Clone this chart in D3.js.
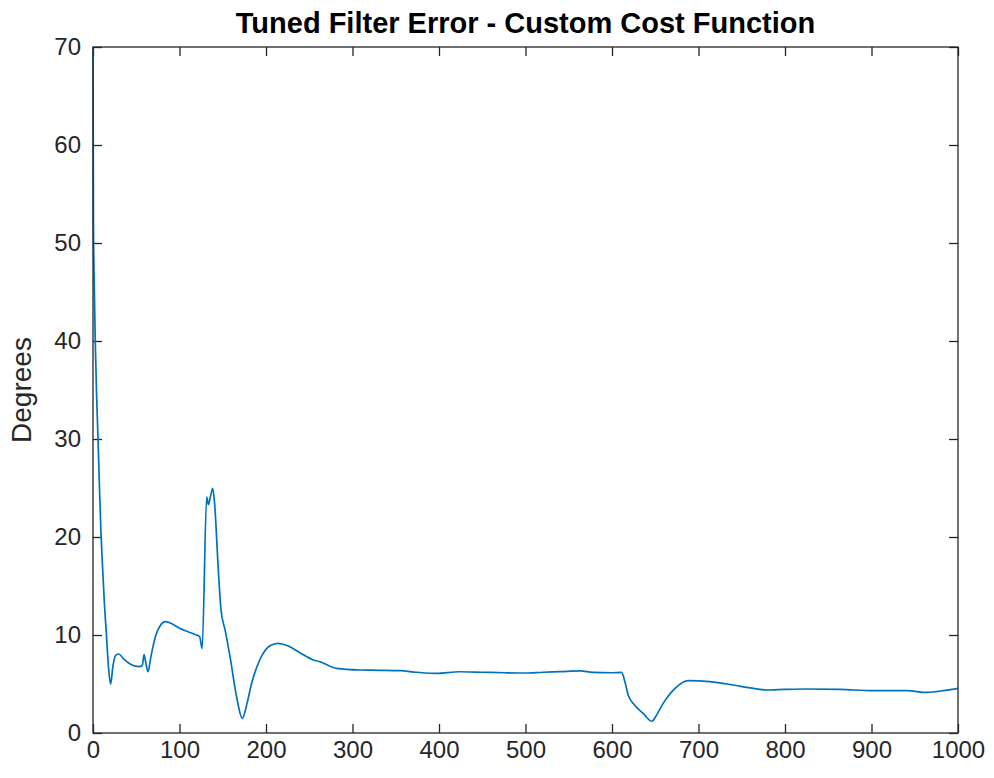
<!DOCTYPE html>
<html>
<head>
<meta charset="utf-8">
<script src="https://cdn.jsdelivr.net/npm/d3@7"></script>
<style>
  body { margin: 0; background: #fff; }
  text { font-family: "Liberation Sans", Arial, sans-serif; }
</style>
</head>
<body>
<div id="wrapper"></div>
<script>
// Values
var sampleX = [0, 0.5, 1.2, 2.6, 4, 5.8, 7.5, 9.2, 11, 13, 15.4, 18, 20.4, 23, 26, 29.7, 35, 42, 48, 54, 57, 59, 61, 63.6, 67, 72, 78, 83.6, 90, 100, 109.8, 118, 123.3, 126.2, 131.4, 133.3, 136, 138.4, 140.5, 144.9, 148, 153, 158.4, 166, 172.6, 178, 183.4, 193, 204.6, 214, 225, 239, 254.7, 262, 281.7, 308.7, 330, 355, 374, 397, 424, 450, 475, 500, 520, 540, 563, 578, 600, 611, 615, 619, 624.6, 636, 646, 652, 659, 673, 688, 713, 740, 760, 779, 800, 825, 864, 902, 941, 964, 985, 1000]
var errorDeg = [70, 52, 47, 40, 35, 30, 25, 20.5, 17, 13.5, 10.2, 6.6, 5.0, 6.8, 7.9, 8.06, 7.6, 7.1, 6.85, 6.77, 6.9, 8.0, 7.2, 6.26, 7.8, 9.8, 11.0, 11.36, 11.2, 10.7, 10.34, 10.05, 9.83, 8.6, 24.1, 23.3, 24.2, 24.96, 23.5, 16.6, 12.55, 10.4, 7.8, 3.7, 1.5, 3.0, 5.07, 7.5, 8.9, 9.15, 8.9, 8.2, 7.45, 7.28, 6.6, 6.43, 6.4, 6.36, 6.2, 6.08, 6.25, 6.2, 6.15, 6.12, 6.2, 6.26, 6.33, 6.18, 6.15, 6.18, 5.2, 3.8, 3.0, 2.0, 1.2, 1.9, 3.0, 4.56, 5.34, 5.24, 4.9, 4.6, 4.39, 4.45, 4.49, 4.45, 4.32, 4.32, 4.14, 4.35, 4.56]

var xTicks = [0, 100, 200, 300, 400, 500, 600, 700, 800, 900, 1000]
var yTicks = [0, 10, 20, 30, 40, 50, 60, 70]

var titleText = "Tuned Filter Error - Custom Cost Function"
var yLabel = "Degrees"

var data = sampleX.map(function (x, i) { return { x: x, v: errorDeg[i] } })

// dimensions
var margin = { top: 47, right: 36, bottom: 45, left: 93 },
  width = 994 - margin.left - margin.right,
  height = 778 - margin.top - margin.bottom;

var axisColor = "#262626"

var svg = d3.select("#wrapper")
  .append("svg")
  .attr("width", 994)
  .attr("height", 778)
  .append("g")
  .attr("transform", "translate(" + margin.left + "," + margin.top + ")")

var x = d3.scaleLinear().domain([0, 1000]).range([0, width])
var y = d3.scaleLinear().domain([0, 70]).range([height, 0])

// bottom axis with labels, ticks pointing in
var xAxis = svg.append("g")
  .attr("transform", "translate(0," + height + ")")
  .call(d3.axisBottom(x).tickValues(xTicks).tickFormat(d3.format("d"))
    .tickSizeInner(-9).tickSizeOuter(0).tickPadding(8))
xAxis.select(".domain").remove()
xAxis.selectAll("line").attr("stroke", axisColor).attr("stroke-width", 1.3)
xAxis.selectAll("text").attr("fill", axisColor).style("font-size", "24px")
  .style("font-family", "'Liberation Sans', Arial, sans-serif")

// top axis, ticks only
var xTop = svg.append("g")
  .call(d3.axisTop(x).tickValues(xTicks).tickSizeInner(-9).tickSizeOuter(0).tickFormat(""))
xTop.select(".domain").remove()
xTop.selectAll("line").attr("stroke", axisColor).attr("stroke-width", 1.3)

// left axis with labels
var yAxis = svg.append("g")
  .call(d3.axisLeft(y).tickValues(yTicks).tickSizeInner(-9).tickSizeOuter(0).tickPadding(12))
yAxis.select(".domain").remove()
yAxis.selectAll("line").attr("stroke", axisColor).attr("stroke-width", 1.3)
yAxis.selectAll("text").attr("fill", axisColor).style("font-size", "24px")
  .style("font-family", "'Liberation Sans', Arial, sans-serif")

// right axis, ticks only
var yRight = svg.append("g")
  .attr("transform", "translate(" + width + ",0)")
  .call(d3.axisRight(y).tickValues(yTicks).tickSizeInner(-9).tickSizeOuter(0).tickFormat(""))
yRight.select(".domain").remove()
yRight.selectAll("line").attr("stroke", axisColor).attr("stroke-width", 1.3)

// the error line
var line = d3.line()
  .x(function (d) { return x(d.x) })
  .y(function (d) { return y(d.v) })
  .curve(d3.curveMonotoneX)

svg.append("path")
  .datum(data)
  .attr("fill", "none")
  .attr("stroke", "#0072BD")
  .attr("stroke-width", 1.7)
  .attr("stroke-linejoin", "round")
  .attr("d", line)

// box round the axes
svg.append("rect")
  .attr("x", 0)
  .attr("y", 0)
  .attr("width", width)
  .attr("height", height)
  .attr("fill", "none")
  .attr("stroke", axisColor)
  .attr("stroke-width", 1.3)

// title
svg.append("text")
  .attr("x", width / 2)
  .attr("y", -14)
  .attr("fill", "#000")
  .style("font-size", "29px")
  .style("font-weight", "bold")
  .style("text-anchor", "middle")
  .text(titleText)

// y label
svg.append("text")
  .attr("transform", "translate(" + (31 - margin.left) + "," + (height / 2) + ") rotate(-90)")
  .attr("fill", axisColor)
  .style("font-size", "28px")
  .style("text-anchor", "middle")
  .text(yLabel)
</script>
</body>
</html>
